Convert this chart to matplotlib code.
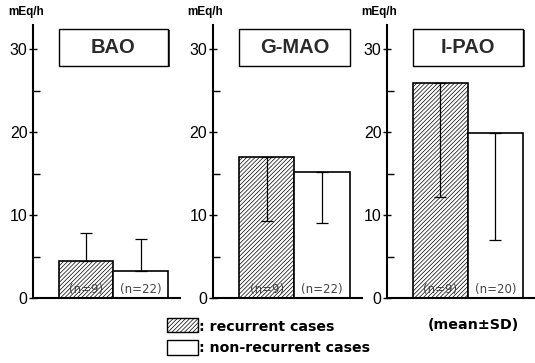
import matplotlib.pyplot as plt
from matplotlib.patches import Rectangle

# data (mEq/h)
panels = ['BAO', 'G-MAO', 'I-PAO']
recurrent_mean = [4.5, 17.0, 25.9]
recurrent_sd = [3.3, 7.7, 13.7]
nonrec_mean = [3.3, 15.2, 19.9]
nonrec_sd = [3.8, 6.1, 12.9]
recurrent_n = [9, 9, 9]
nonrec_n = [22, 22, 20]
sd_upward = [True, False, False]   # the paper draws only one side of the SD

plt.rcParams['font.family'] = ['Liberation Sans', 'DejaVu Sans']
plt.rcParams['hatch.linewidth'] = 0.5
plt.rcParams['hatch.color'] = '#666666'

fig = plt.figure(figsize=(5.35, 3.63), dpi=100)

lefts = [0.0617, 0.398, 0.7234]
widths = [0.275, 0.2785, 0.2766]

for i, name in enumerate(panels):
    ax = fig.add_axes([lefts[i], 0.179, widths[i], 0.752])
    ax.set_xlim(-0.47, 2.22)
    ax.set_ylim(0, 32.9)
    for s in ['top', 'right']:
        ax.spines[s].set_visible(False)
    ax.spines['left'].set_linewidth(1.5)
    ax.spines['bottom'].set_linewidth(1.5)

    means = [recurrent_mean[i], nonrec_mean[i]]
    sds = [recurrent_sd[i], nonrec_sd[i]]
    ax.bar(0, means[0], width=1, align='edge', facecolor='white',
           edgecolor='black', linewidth=1.2, hatch='////////', zorder=2)
    ax.bar(1, means[1], width=1, align='edge', facecolor='white',
           edgecolor='black', linewidth=1.2, zorder=2)
    if sd_upward[i]:
        yerr = [[0, 0], sds]
    else:
        yerr = [sds, [0, 0]]
    ax.errorbar([0.5, 1.5], means, yerr=yerr, fmt='none', ecolor='black',
                elinewidth=0.9, capsize=4, capthick=0.9, zorder=3)

    ax.text(0.5, 1.0, f'(n={recurrent_n[i]})', ha='center', va='center',
            fontsize=8.5, color='#444444', family=['DejaVu Sans'], zorder=4)
    ax.text(1.5, 1.0, f'(n={nonrec_n[i]})', ha='center', va='center',
            fontsize=8.5, color='#444444', family=['DejaVu Sans'], zorder=4)

    # title box with a small shadow
    ax.add_patch(Rectangle((0.03, 27.85), 2, 4.4, facecolor='#444444',
                           edgecolor='none', zorder=4))
    ax.add_patch(Rectangle((0, 28.0), 2, 4.4, facecolor='white',
                           edgecolor='black', linewidth=1.0, zorder=5))
    ax.text(1.0, 30.2, name, ha='center', va='center', fontsize=14.5,
            fontweight='bold', color='#2a2a2a', zorder=6)

    ax.set_yticks([0, 10, 20, 30])
    ax.set_yticks([5, 15, 25], minor=True)
    ax.set_xticks([])
    ax.tick_params(axis='y', which='major', direction='inout', length=6,
                   width=1.0, labelsize=11.5, pad=1)
    ax.tick_params(axis='y', which='minor', direction='in', length=5, width=1.0)
    ax.text(-0.05, 1.025, 'mEq/h', transform=ax.transAxes, ha='center', va='bottom',
            fontsize=8.5, fontweight='bold')

# legend drawn in figure coordinates
fig.patches.append(Rectangle((0.312, 0.0854), 0.058, 0.0386, transform=fig.transFigure,
                             facecolor='white', edgecolor='black', linewidth=1.0,
                             hatch='////////', figure=fig))
fig.patches.append(Rectangle((0.312, 0.022), 0.058, 0.041, transform=fig.transFigure,
                             facecolor='white', edgecolor='black', linewidth=1.0,
                             figure=fig))
fig.text(0.372, 0.099, ': recurrent cases', ha='left', va='center', fontsize=10.2,
         fontweight='bold', family=['DejaVu Sans'])
fig.text(0.372, 0.041, ': non-recurrent cases', ha='left', va='center', fontsize=10.2,
         fontweight='bold', family=['DejaVu Sans'])
fig.text(0.80, 0.105, '(mean±SD)', ha='left', va='center', fontsize=10.3,
         fontweight='bold', family=['DejaVu Sans'])

fig.savefig('out.png', dpi=100)
